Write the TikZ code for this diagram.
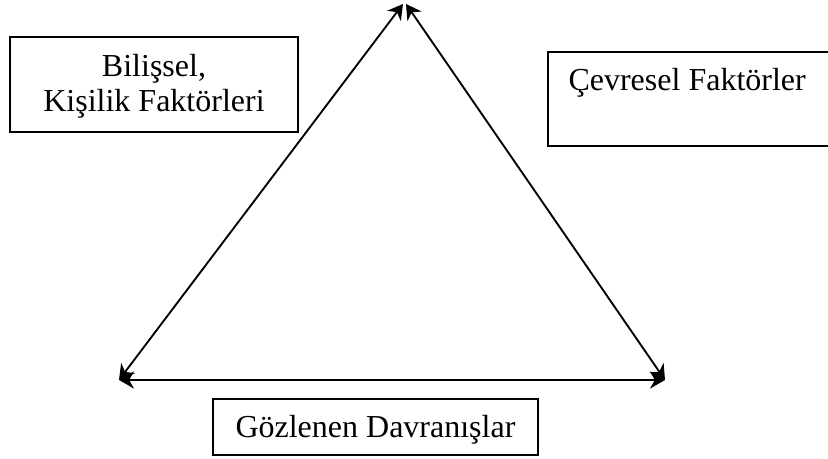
\documentclass[tikz,border=0pt]{standalone}
\usepackage{fontspec}
\setmainfont{Liberation Serif}
\usetikzlibrary{arrows.meta, positioning}

\begin{document}
\begin{tikzpicture}[x=0.375pt, y=-0.375pt,
  side/.style={{Stealth[length=5.6pt,width=6.4pt,inset=1.8pt]}-{Stealth[length=5.6pt,width=6.4pt,inset=1.8pt]},line width=0.7pt},
  boxline/.style={line width=0.7pt},
  lbl/.style={inner sep=0pt,font=\fontsize{12}{13.2}\selectfont}
]
  \useasboundingbox (0,0) rectangle (828,458);
  \clip (0,0) rectangle (828,458);

  % corners of the triangle
  \coordinate (apexL) at (403,4);
  \coordinate (apexR) at (406,4);
  \coordinate (bl) at (119,380);
  \coordinate (br) at (665,380);

  \draw[side] (bl) -- (apexL);
  \draw[side] (br) -- (apexR);
  \draw[side] (bl) -- (br);

  % boxes
  \draw[boxline] (10,37) rectangle (298,132);
  \node[lbl,align=center] (kisilik) at (154,86) {Bilişsel,\\Kişilik Faktörleri};

  \draw[boxline] (548,52) rectangle (840,146);
  \node[lbl,anchor=base west] (cevre) at (568,90) {Çevresel Faktörler};

  \draw[boxline] (213,399) rectangle (538,455);
  \node[lbl,anchor=base west] (davranis) at (235,437) {Gözlenen Davranışlar};
\end{tikzpicture}
\end{document}
